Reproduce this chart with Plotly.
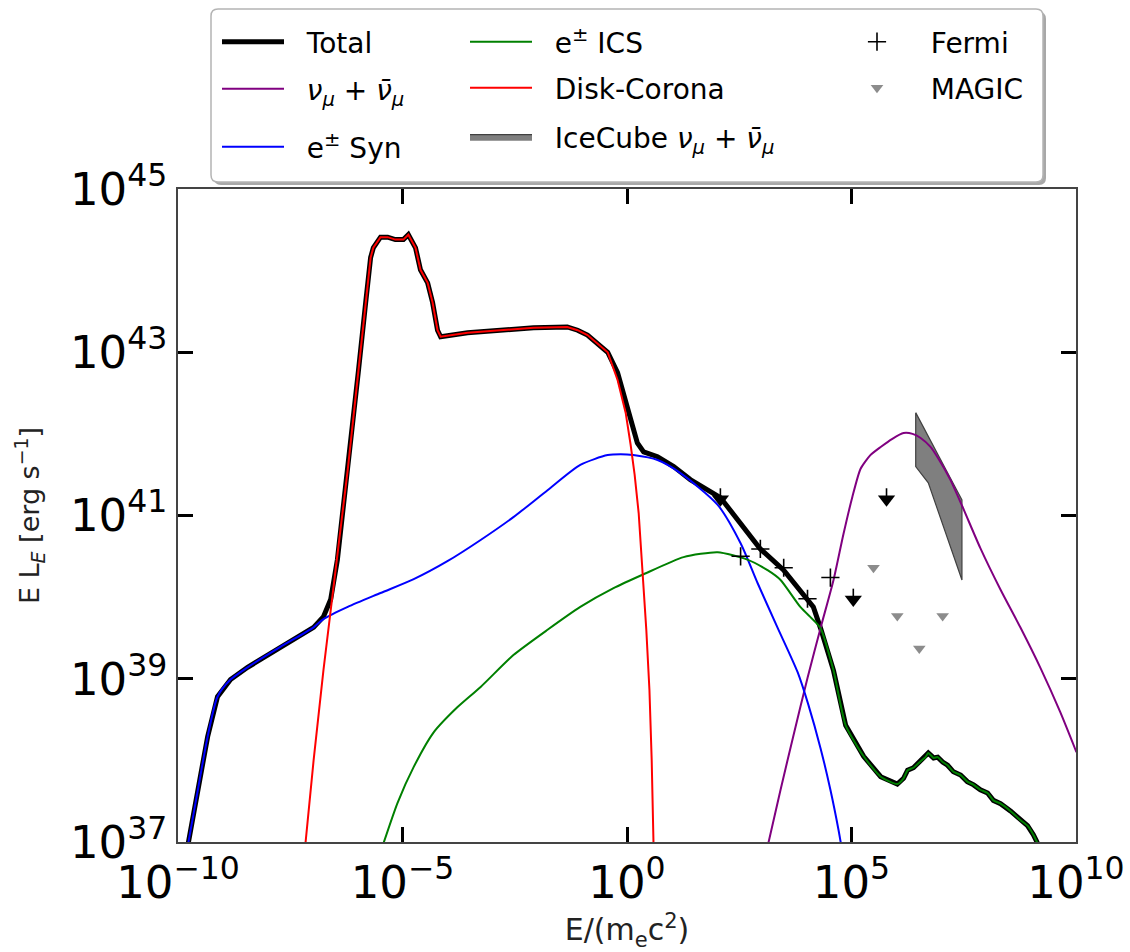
import plotly.graph_objects as go

FONT = "DejaVu Sans"

# Spectral components: (log10 E/(m_e c^2), log10 E L_E [erg/s])
total_pts = [
    (-9.77, 36.99), (-9.57, 37.60), (-9.34, 38.29), (-9.12, 38.78), (-8.83, 38.99),
    (-8.45, 39.14), (-7.72, 39.39), (-6.98, 39.63), (-6.76, 39.76), (-6.60, 39.97),
    (-6.45, 40.46), (-6.22, 41.56), (-5.98, 42.78), (-5.82, 43.61), (-5.71, 44.16),
    (-5.65, 44.28), (-5.49, 44.41), (-5.33, 44.41), (-5.16, 44.38), (-4.98, 44.38),
    (-4.87, 44.44), (-4.71, 44.28), (-4.60, 44.01), (-4.44, 43.85), (-4.33, 43.61),
    (-4.22, 43.27), (-4.15, 43.19), (-3.55, 43.24), (-2.82, 43.27), (-2.08, 43.30),
    (-1.33, 43.31), (-1.10, 43.27), (-0.88, 43.21), (-0.43, 43.00), (-0.21, 42.75),
    (0.01, 42.33), (0.23, 41.89), (0.37, 41.78), (0.68, 41.72), (1.04, 41.60),
    (1.41, 41.44), (2.08, 41.22), (2.97, 40.59), (3.49, 40.33), (4.15, 39.88),
    (4.31, 39.62), (4.60, 39.10), (4.87, 38.43), (5.27, 38.05), (5.65, 37.80),
    (6.02, 37.71), (6.16, 37.78), (6.25, 37.88), (6.38, 37.91), (6.54, 37.99),
    (6.65, 38.04), (6.71, 38.09), (6.83, 38.03), (6.92, 38.04), (7.03, 37.98),
    (7.14, 37.94), (7.27, 37.86), (7.43, 37.82), (7.58, 37.74), (7.72, 37.70),
    (7.87, 37.64), (8.03, 37.60), (8.16, 37.51), (8.32, 37.47), (8.54, 37.38),
    (8.76, 37.27), (8.92, 37.20), (9.05, 37.09), (9.14, 36.99),
]

neutrino_pts = [
    (3.15, 36.99), (3.42, 37.64), (3.71, 38.31), (4.02, 39.01), (4.31, 39.62),
    (4.60, 40.21), (4.82, 40.77), (5.02, 41.23), (5.20, 41.57), (5.42, 41.74),
    (5.65, 41.84), (5.91, 41.94), (6.16, 42.01), (6.36, 42.00), (6.54, 41.95),
    (6.76, 41.84), (6.92, 41.71), (7.20, 41.44), (7.47, 41.11), (7.87, 40.60),
    (8.32, 40.09), (8.76, 39.63), (9.21, 39.13), (9.65, 38.59), (10.01, 38.10),
]

syn_pts = [
    (-9.77, 36.99), (-9.57, 37.60), (-9.34, 38.29), (-9.12, 38.78), (-8.83, 38.99),
    (-8.45, 39.14), (-7.72, 39.39), (-6.98, 39.63), (-6.76, 39.73), (-6.22, 39.88),
    (-5.49, 40.05), (-4.75, 40.22), (-4.00, 40.44), (-3.26, 40.70), (-2.53, 40.98),
    (-1.77, 41.31), (-1.04, 41.62), (-0.43, 41.74), (-0.14, 41.75), (0.14, 41.74),
    (0.68, 41.68), (1.19, 41.52), (2.02, 41.13), (2.53, 40.66), (2.91, 40.17),
    (3.35, 39.63), (3.80, 39.08), (4.04, 38.68), (4.31, 38.15), (4.53, 37.64),
    (4.71, 37.15), (4.78, 36.93),
]

ics_pts = [
    (-5.42, 36.99), (-5.11, 37.48), (-4.75, 37.92), (-4.31, 38.34), (-3.78, 38.65),
    (-3.26, 38.90), (-2.53, 39.29), (-1.77, 39.60), (-1.04, 39.88), (-0.30, 40.11),
    (0.37, 40.28), (1.26, 40.49), (2.02, 40.55), (2.68, 40.46), (3.13, 40.33),
    (3.42, 40.21), (3.86, 39.88), (4.15, 39.72), (4.31, 39.62), (4.60, 39.10),
    (4.87, 38.43), (5.27, 38.05), (5.65, 37.80), (6.02, 37.71), (6.16, 37.78),
    (6.25, 37.88), (6.38, 37.91), (6.54, 37.99), (6.65, 38.04), (6.71, 38.09),
    (6.83, 38.03), (6.92, 38.04), (7.03, 37.98), (7.14, 37.94), (7.27, 37.86),
    (7.43, 37.82), (7.58, 37.74), (7.72, 37.70), (7.87, 37.64), (8.03, 37.60),
    (8.16, 37.51), (8.32, 37.47), (8.54, 37.38), (8.76, 37.27), (8.92, 37.20),
    (9.05, 37.09), (9.14, 36.99),
]

corona_pts = [
    (-7.16, 36.99), (-6.98, 38.00), (-6.76, 39.11), (-6.60, 39.84), (-6.45, 40.46),
    (-6.22, 41.56), (-5.98, 42.78), (-5.82, 43.61), (-5.71, 44.16), (-5.65, 44.28),
    (-5.49, 44.41), (-5.33, 44.41), (-5.16, 44.38), (-4.98, 44.38), (-4.87, 44.44),
    (-4.71, 44.28), (-4.60, 44.01), (-4.44, 43.85), (-4.33, 43.61), (-4.22, 43.27),
    (-4.15, 43.19), (-3.55, 43.24), (-2.82, 43.27), (-2.08, 43.30), (-1.33, 43.31),
    (-1.10, 43.27), (-0.88, 43.21), (-0.43, 43.00), (-0.21, 42.66), (-0.03, 42.26),
    (0.08, 41.87), (0.17, 41.50), (0.26, 41.03), (0.35, 40.30), (0.43, 39.60),
    (0.50, 38.86), (0.55, 38.00), (0.59, 36.99),
]

# Observations
fermi_logE = [2.53, 2.97, 3.49, 4.02, 4.53]
fermi_logL = [40.50, 40.59, 40.36, 39.98, 40.24]
fermi_ul_logE = [2.08, 5.04, 5.78]
fermi_ul_logL = [41.20, 39.97, 41.20]
magic_ul_logE = [5.49, 6.02, 6.51, 7.03]
magic_ul_logL = [40.36, 39.77, 39.37, 39.77]

# IceCube muon-neutrino band edges
icecube_upper_logE = [6.43, 7.46]
icecube_upper_logL = [42.26, 41.19]
icecube_lower_logE = [6.43, 6.71, 7.46]
icecube_lower_logL = [41.60, 41.40, 40.21]

# Axis ticks
x_tick_exp = [-10, -5, 0, 5, 10]
y_tick_exp = [37, 39, 41, 43, 45]


def lin(v):
    return [10.0 ** a for a in v]


def split(pts):
    return lin([p[0] for p in pts]), lin([p[1] for p in pts])


def sup_label(e):
    return "10<sup>" + str(e).replace("-", "\u2212") + "</sup>"


NU = "<i>\u03bd</i><sub><i>\u03bc</i></sub> + <i>\u03bd\u0304</i><sub><i>\u03bc</i></sub>"
GAP = "\u00a0\u00a0"

fig = go.Figure()

# band first so the neutrino curve is drawn over it
band_x = lin(icecube_upper_logE + icecube_lower_logE[::-1] + icecube_upper_logE[:1])
band_y = lin(icecube_upper_logL + icecube_lower_logL[::-1] + icecube_upper_logL[:1])
fig.add_trace(go.Scatter(
    x=band_x, y=band_y, mode="lines", fill="toself", fillcolor="#7f7f7f",
    line=dict(color="#404040", width=1.2), name=GAP + "IceCube " + NU,
    legend="legend6"))

tx, ty = split(total_pts)
fig.add_trace(go.Scatter(x=tx, y=ty, mode="lines", line=dict(color="black", width=5),
                         name=GAP + "Total", legend="legend"))

nx, ny = split(neutrino_pts)
fig.add_trace(go.Scatter(x=nx, y=ny, mode="lines",
                         line=dict(color="#800080", width=2, shape="spline", smoothing=0.6),
                         name=GAP + NU, legend="legend2"))

sx, sy = split(syn_pts)
fig.add_trace(go.Scatter(x=sx, y=sy, mode="lines",
                         line=dict(color="#0000ff", width=2, shape="spline", smoothing=0.7),
                         name=GAP + "e<sup>\u00b1</sup> Syn", legend="legend3"))

ix, iy = split(ics_pts)
fig.add_trace(go.Scatter(x=ix, y=iy, mode="lines",
                         line=dict(color="#008000", width=2, shape="spline", smoothing=0.6),
                         name=GAP + "e<sup>\u00b1</sup> ICS", legend="legend4"))

cx, cy = split(corona_pts)
fig.add_trace(go.Scatter(x=cx, y=cy, mode="lines", line=dict(color="#ff0000", width=2),
                         name=GAP + "Disk-Corona", legend="legend5"))

fig.add_trace(go.Scatter(
    x=lin(fermi_logE), y=lin(fermi_logL), mode="markers", name=GAP + "Fermi",
    marker=dict(symbol="cross-thin", size=13, color="black",
                line=dict(color="black", width=1.6)),
    legend="legend7"))

fig.add_trace(go.Scatter(
    x=lin(fermi_ul_logE), y=lin(fermi_ul_logL), mode="markers", showlegend=False,
    marker=dict(symbol="triangle-down", size=15, color="black"),
    error_y=dict(type="percent", symmetric=False, value=36, valueminus=0,
                 width=0, thickness=1.6, color="black"),
    legend="legend7"))

fig.add_trace(go.Scatter(
    x=lin(magic_ul_logE), y=lin(magic_ul_logL), mode="markers", name=GAP + "MAGIC",
    marker=dict(symbol="triangle-down", size=11, color="#8c8c8c"),
    legend="legend8"))

# ---- layout geometry (pixels of the 1130x952 canvas) ----
W, H = 1130, 952
L, R, T, B = 178, 54, 189, 110
PW, PH = W - L - R, H - T - B


def px_x(p):
    return (p - L) / PW


def px_y(p):
    return (H - B - p) / PH


def round_rect(x0, y0, x1, y1, r):
    rx, ry = r / PW, r / PH
    a, b, c, d = px_x(x0), px_y(y1), px_x(x1), px_y(y0)
    return (f"M{a+rx},{d} L{c-rx},{d} Q{c},{d} {c},{d-ry} L{c},{b+ry} "
            f"Q{c},{b} {c-rx},{b} L{a+rx},{b} Q{a},{b} {a},{b+ry} "
            f"L{a},{d-ry} Q{a},{d} {a+rx},{d} Z")


shapes = [
    dict(type="path", xref="paper", yref="paper",
         path=round_rect(214, 12, 1046, 185, 7),
         fillcolor="#a8a8a8", line=dict(width=0), layer="above"),
    dict(type="path", xref="paper", yref="paper",
         path=round_rect(211, 9, 1043, 182, 7),
         fillcolor="white", line=dict(color="#b4b4b4", width=1.5), layer="above"),
]


def entry(x, y):
    return dict(font=dict(family=FONT, size=28, color="black"),
                bgcolor="rgba(0,0,0,0)", borderwidth=0,
                xanchor="left", yanchor="middle", itemwidth=62,
                x=px_x(x), y=px_y(y))


axis_common = dict(
    type="log", showgrid=False, zeroline=False, showline=True,
    linecolor="#444444", linewidth=1.5, mirror="ticks", ticks="inside",
    ticklen=15, tickwidth=2.5, tickcolor="black",
    tickfont=dict(family=FONT, size=45, color="black"))

fig.update_layout(
    width=W, height=H, margin=dict(l=L, r=R, t=T, b=B, autoexpand=False),
    paper_bgcolor="white", plot_bgcolor="white",
    font=dict(family=FONT, color="black"),
    xaxis=dict(axis_common, range=[-10, 10],
               tickvals=lin(x_tick_exp), ticktext=[sup_label(e) for e in x_tick_exp],
               title=dict(text="E/(m<sub>e</sub>c<sup>2</sup>)",
                          font=dict(family=FONT, size=30, color="#222222"), standoff=10)),
    yaxis=dict(axis_common, range=[37, 45],
               tickvals=lin(y_tick_exp), ticktext=[sup_label(e) for e in y_tick_exp],
               title=dict(text="E L<sub><i>E</i></sub> [erg s<sup>\u22121</sup>]",
                          font=dict(family=FONT, size=27, color="#222222"), standoff=22)),
    legend=entry(217, 42),
    legend2=entry(217, 89),
    legend3=entry(217, 147),
    legend4=entry(465, 42),
    legend5=entry(465, 88),
    legend6=entry(465, 137),
    legend7=entry(841, 42),
    legend8=entry(841, 88),
    shapes=shapes,
    showlegend=True,
)

fig.write_html("out.html")
